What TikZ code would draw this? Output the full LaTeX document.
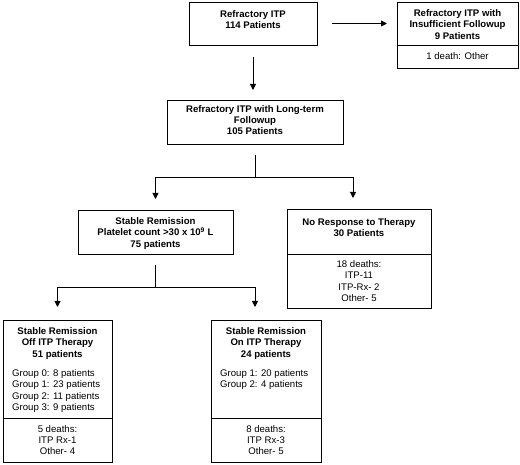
\documentclass[tikz,border=0pt]{standalone}
\usepackage{fontspec}
\setmainfont{Liberation Sans}
\usetikzlibrary{positioning,arrows.meta}

\tikzset{
  box/.style={draw, line width=0.9pt, inner sep=0pt, outer sep=0pt},
  head/.style={font=\fontsize{9.6}{11.3}\selectfont\bfseries, align=center, inner sep=0pt},
  body/.style={font=\fontsize{9.6}{11.3}\selectfont, align=left, inner sep=0pt},
  link/.style={line width=0.9pt},
  arr/.style={line width=0.9pt, -{Triangle[length=6pt,width=6pt]}}
}

\begin{document}
\begin{tikzpicture}[x=1pt, y=-1pt]
  \useasboundingbox (0,0) rectangle (520,465);

  % Top row
  \node[box, minimum width=128pt, minimum height=43pt] (itp) at (253,23.5) {};
  \node[head, below=8.5pt of itp.north] (itptext) {Refractory ITP\\114 Patients};
  \node[box, minimum width=121pt, minimum height=43pt] (insuff) at (457.5,23.5) {};
  \node[head, below=7.5pt of insuff.north] (insufftext) {Refractory ITP with\\Insufficient Followup\\9 Patients};
  \node[box, body, align=center, minimum width=121pt, minimum height=23pt, below=0pt of insuff] (insuffdeaths) {1 death: Other};

  % Long-term followup
  \node[box, minimum width=176pt, minimum height=44pt] (longterm) at (255,122) {};
  \node[head, below=5pt of longterm.north] (longtermtext) {Refractory ITP with Long-term\\Followup\\105 Patients};

  % Second level
  \node[box, minimum width=155pt, minimum height=44pt] (stable) at (155.5,232) {};
  \node[head, below=7.5pt of stable.north] (stabletext) {Stable Remission\\Platelet count >30 x 10\textsuperscript{9} L\\75 patients};
  \node[box, minimum width=144pt, minimum height=45pt] (noresp) at (359,231.5) {};
  \node[head, below=9.5pt of noresp.north] (noresptext) {No Response to Therapy\\30 Patients};
  \node[box, body, align=center, minimum width=144pt, minimum height=54pt, below=0pt of noresp] (norespdeaths) {18 deaths:\\ITP-11\\ITP-Rx- 2\\Other- 5};

  % Bottom level
  \node[box, minimum width=109pt, minimum height=98pt] (offrx) at (57.5,369) {};
  \node[head, below=7.5pt of offrx.north] (offrxtext) {Stable Remission\\Off ITP Therapy\\51 patients};
  \node[body, below right=49.5pt and 9pt of offrx.north west] (offrxgroups) {Group 0: 8 patients\\Group 1: 23 patients\\Group 2: 11 patients\\Group 3: 9 patients};
  \node[box, body, align=center, minimum width=109pt, minimum height=44pt, below=0pt of offrx] (offrxdeaths) {5 deaths:\\ITP Rx-1\\Other- 4};

  \node[box, minimum width=110pt, minimum height=98pt] (onrx) at (266,369) {};
  \node[head, below=7.5pt of onrx.north] (onrxtext) {Stable Remission\\On ITP Therapy\\24 patients};
  \node[body, below right=49.5pt and 9pt of onrx.north west] (onrxgroups) {Group 1: 20 patients\\Group 2: 4 patients};
  \node[box, body, align=center, minimum width=110pt, minimum height=44pt, below=0pt of onrx] (onrxdeaths) {8 deaths:\\ITP Rx-3\\Other- 5};

  % Connectors
  \draw[arr, shorten <=15pt, shorten >=10pt] (itp) -- (insuff);
  \draw[arr, shorten <=12pt, shorten >=10pt] (itp.south) -- (itp.south |- longterm.north);

  \coordinate (split1) at (255,177);
  \draw[link, shorten <=11pt] (longterm.south) -- (split1);
  \draw[arr, shorten >=11pt] (split1) -| (stable.north);
  \draw[arr, shorten >=11pt] (split1) -| ([xshift=-6pt]noresp.north);

  \coordinate (split2) at (155.5,287);
  \draw[link, shorten <=11pt] (stable.south) -- (split2);
  \draw[arr, shorten >=13pt] (split2) -| (offrx.north);
  \draw[arr, shorten >=13pt] (split2) -| ([xshift=-11pt]onrx.north);
\end{tikzpicture}
\end{document}
